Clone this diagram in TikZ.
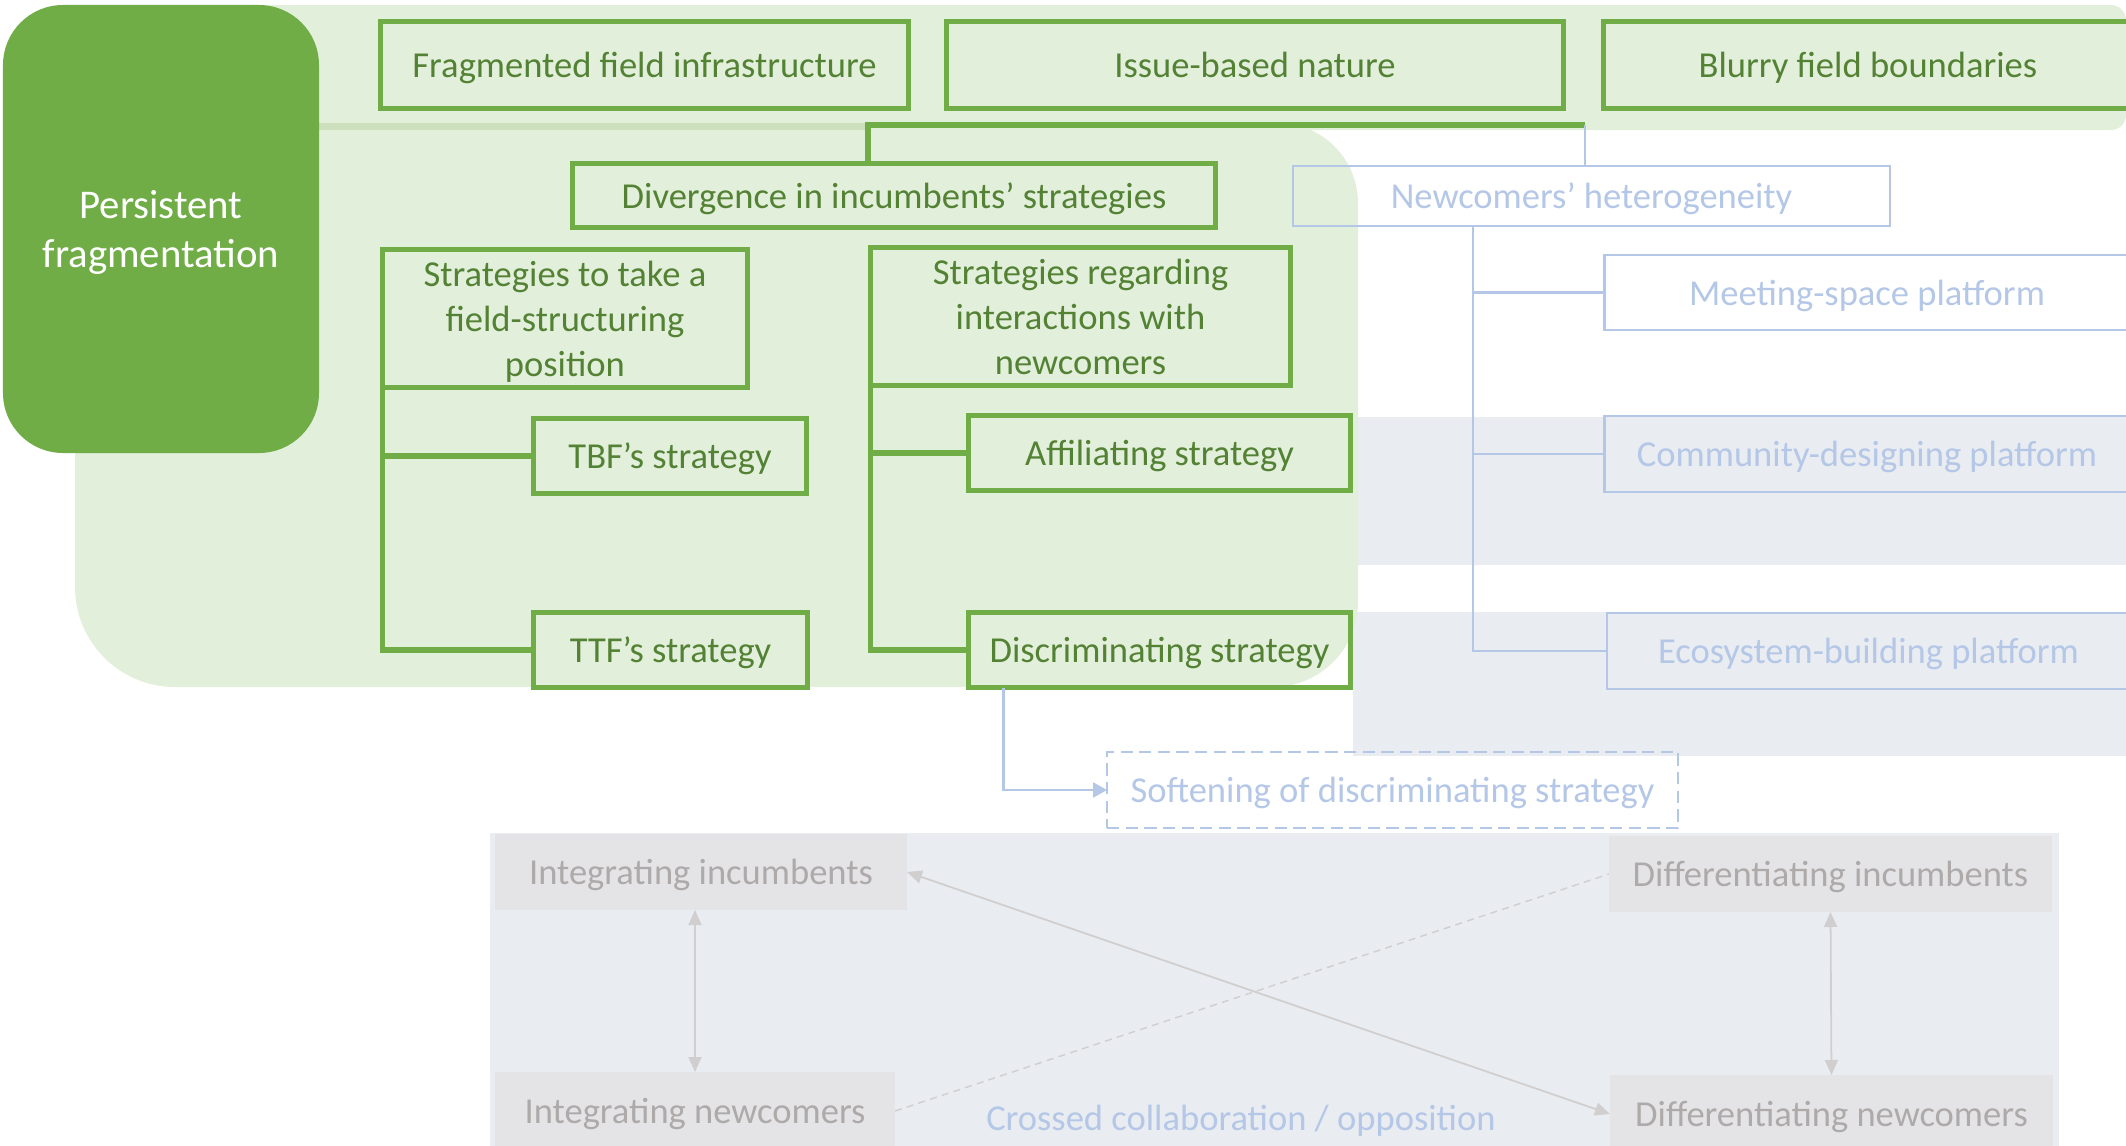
\documentclass[tikz,border=0pt]{standalone}
\usepackage{fontspec}
\setmainfont{Carlito}
\usepackage{xcolor}
\usetikzlibrary{arrows.meta,positioning,calc}

\definecolor{leaf}{HTML}{70AD47}
\definecolor{leafdark}{HTML}{548235}
\definecolor{leaflight}{HTML}{E2EFDA}
\definecolor{leafstrip}{HTML}{CCE0BD}
\definecolor{sky}{HTML}{B4C7E7}
\definecolor{mist}{HTML}{E9ECF1}
\definecolor{ash}{HTML}{E4E4E6}
\definecolor{ashtext}{HTML}{AEAAAA}
\definecolor{ashline}{HTML}{D0CECE}

\begin{document}
\begin{tikzpicture}[
    txt/.style={font=\fontsize{10.4}{12.8}\selectfont, align=center, inner sep=0pt, outer sep=0pt, text depth=0pt},
    gbox/.style={txt, draw=leaf, line width=1.5pt, text=leafdark},
    bbox/.style={txt, draw=sky, line width=0.7pt, text=sky},
    abox/.style={txt, fill=ash, text=ashtext},
    tree/.style={draw=leaf, line width=1.5pt},
    bline/.style={draw=sky, line width=0.7pt},
    aline/.style={draw=ashline, line width=0.5pt, {Triangle[length=0.15cm,width=0.13cm]}-{Triangle[length=0.15cm,width=0.13cm]}}
]
    \useasboundingbox (0,0) rectangle (21.26,-11.46);

    % background areas
    \fill[mist] (13.53,-4.17) rectangle (21.4,-5.65);
    \fill[mist] (13.53,-6.12) rectangle (21.4,-7.56);
    \fill[mist] (4.90,-8.33) rectangle (20.59,-11.6);
    \fill[leaflight, rounded corners=0.15cm] (2.0,-0.05) rectangle (21.26,-1.30);
    \fill[leaflight] (0.75,-1.23) -- (12.78,-1.23) arc[start angle=90, end angle=0, radius=0.8]
        -- (13.58,-6.02) arc[start angle=0, end angle=-90, radius=0.85]
        -- (1.75,-6.87) arc[start angle=270, end angle=180, radius=1.0] -- cycle;
    \fill[leafstrip] (3.19,-1.23) rectangle (8.68,-1.30);

    % field level
    \node[fill=leaf, rounded corners=0.6cm, minimum width=3.16cm, minimum height=4.48cm, text depth=0pt,
        text=white, font=\fontsize{11.6}{14.2}\selectfont, align=center] (persist) at (1.61,-2.29) {Persistent\\fragmentation};
    \node[gbox, minimum width=5.28cm, minimum height=0.87cm] (frag) at (6.445,-0.65) {Fragmented field infrastructure};
    \node[gbox, minimum width=6.17cm, minimum height=0.87cm] (issue) at (12.55,-0.65) {Issue-based nature};
    \node[gbox, minimum width=5.29cm, minimum height=0.87cm] (blurry) at (18.68,-0.65) {Blurry field boundaries};

    % incumbents
    \node[gbox, minimum width=6.43cm, minimum height=0.64cm] (diverg) at (8.94,-1.955) {Divergence in incumbents’ strategies};
    \node[gbox, minimum width=3.65cm, minimum height=1.38cm] (stratA) at (5.65,-3.185) {Strategies to take a\\field-structuring\\position};
    \node[gbox, minimum width=4.20cm, minimum height=1.38cm] (stratB) at (10.805,-3.165) {Strategies regarding\\interactions with\\newcomers};
    \node[gbox, minimum width=2.73cm, minimum height=0.75cm] (tbf) at (6.70,-4.56) {TBF’s strategy};
    \node[gbox, minimum width=2.74cm, minimum height=0.75cm] (ttf) at (6.705,-6.50) {TTF’s strategy};
    \node[gbox, minimum width=3.82cm, minimum height=0.75cm] (affil) at (11.595,-4.53) {Affiliating strategy};
    \node[gbox, minimum width=3.82cm, minimum height=0.75cm] (discr) at (11.595,-6.50) {Discriminating strategy};

    % newcomers
    \node[bbox, minimum width=5.97cm, minimum height=0.60cm] (newhet) at (15.915,-1.96) {Newcomers’ heterogeneity};
    \node[bbox, minimum width=5.25cm, minimum height=0.75cm] (meet) at (18.67,-2.925) {Meeting-space platform};
    \node[bbox, minimum width=5.25cm, minimum height=0.76cm] (commun) at (18.67,-4.54) {Community-designing platform};
    \node[bbox, minimum width=5.23cm, minimum height=0.76cm] (ecosys) at (18.685,-6.51) {Ecosystem-building platform};
    \node[bbox, dash pattern=on 3.5pt off 1.8pt, minimum width=5.71cm, minimum height=0.76cm] (soft) at (13.925,-7.90) {Softening of discriminating strategy};

    % interaction patterns
    \node[abox, minimum width=4.12cm, minimum height=0.76cm] (intInc) at (7.01,-8.72) {Integrating incumbents};
    \node[abox, minimum width=4.00cm, minimum height=0.78cm] (intNew) at (6.95,-11.11) {Integrating newcomers};
    \node[abox, minimum width=4.43cm, minimum height=0.76cm] (difInc) at (18.305,-8.74) {Differentiating incumbents};
    \node[abox, minimum width=4.43cm, minimum height=0.78cm] (difNew) at (18.315,-11.14) {Differentiating newcomers};
    \node[txt, text=sky] (crossed) at (12.41,-11.18) {Crossed collaboration / opposition};

    % connectors
    \coordinate (hubL) at (8.68,-1.25);
    \coordinate (hubR) at (15.85,-1.25);
    \draw[tree] (hubR) -- (hubL) -- (hubL |- diverg.north);
    \draw[bline] (hubR) -- (hubR |- newhet.north);

    \draw[tree] (stratA.south west) |- (tbf.west);
    \draw[tree] (stratA.south west) |- (ttf.west);
    \draw[tree] (stratB.south west) |- (affil.west);
    \draw[tree] (stratB.south west) |- (discr.west);

    \coordinate (fork) at (14.73,-2.26);
    \draw[bline] (fork) |- (meet.west);
    \draw[bline] (fork) |- (commun.west);
    \draw[bline] (fork) |- (ecosys.west);

    \draw[bline, -{Triangle[length=0.14cm,width=0.15cm]}] ([xshift=0.35cm]discr.south west) |- (soft.west);

    \draw[aline] (intInc.south -| intNew.north) -- (intNew.north);
    \draw[aline] (difInc.south) -- (difNew.north);
    \draw[aline] (intInc.east) -- (difNew.west);
    \draw[ashline, line width=0.4pt, dash pattern=on 2pt off 1.5pt] (intNew.east) -- (difInc.west);
\end{tikzpicture}
\end{document}
